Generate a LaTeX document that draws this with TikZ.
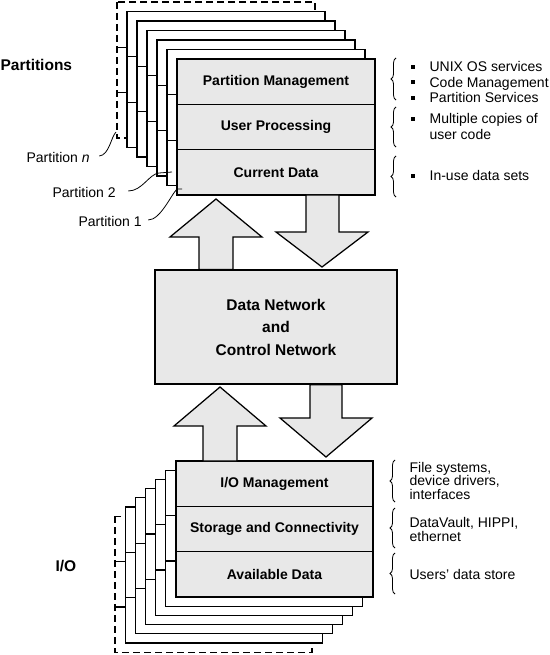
\documentclass[tikz,border=0pt]{standalone}
\usepackage{fontspec}
\setmainfont{Liberation Sans}
\usetikzlibrary{positioning,calc,decorations.pathreplacing}
\definecolor{boxgray}{RGB}{232,232,232}
\newcommand{\bsq}{\makebox[19pt][l]{\rule[2.9pt]{4pt}{4pt}}}

\begin{document}
\begin{tikzpicture}[x=1pt,y=-1pt,line width=1.25pt,
  rowbox/.style={draw,fill=boxgray,minimum width=198pt,minimum height=45.33pt,inner sep=0pt,outer sep=0pt,font=\bfseries\fontsize{14}{16}\selectfont},
  backbox/.style={draw,fill=white},
  farbox/.style={draw,fill=white,dash pattern=on 7pt off 4pt},
  blockarrow/.style={draw,fill=boxgray,line join=miter},
  leader/.style={line width=0.8pt},
  sidebrace/.style={decorate,decoration={brace,amplitude=5pt},line width=0.8pt},
  note/.style={anchor=west,align=left,inner sep=0pt,font=\fontsize{14}{15.5}\selectfont},
  biglabel/.style={anchor=base west,inner sep=0pt,font=\bfseries\fontsize{15.5}{18}\selectfont},
  partlabel/.style={anchor=base west,inner sep=0pt,font=\fontsize{14}{16}\selectfont}]
\useasboundingbox (0,0) rectangle (549,655);

% partition stack, back copies first
\draw[farbox] (117,2) rectangle ++(198,136);
\draw (117,47.33) -- ++(198,0) (117,92.67) -- ++(198,0);
\foreach \k in {5,...,1}{
  \draw[backbox] ({177-10*\k},{59-9.5*\k}) rectangle ++(198,136);
  \draw ({177-10*\k},{104.33-9.5*\k}) -- ++(198,0) ({177-10*\k},{149.67-9.5*\k}) -- ++(198,0);
}
\node[rowbox] (pm) at (276,81.67) {Partition Management};
\node[rowbox,below=0pt of pm] (up) {User Processing};
\node[rowbox,below=0pt of up] (cd) {Current Data};

% network
\node[draw,fill=boxgray,minimum width=242pt,minimum height=114pt,inner sep=0pt,align=center,font=\bfseries\fontsize{15.5}{22.5}\selectfont] (net) at (276,327) {Data Network\\and\\Control Network};

% arrows between partitions and network
\draw[blockarrow] (199,0 |- net.north) -- (199,237) -- (170,237) -- (216,199) -- (262,237) -- (233,237) -- (233,0 |- net.north) -- cycle;
\draw[blockarrow] (306,0 |- cd.south) -- (306,232) -- (276,232) -- (322,267) -- (368,232) -- (339,232) -- (339,0 |- cd.south) -- cycle;

% I/O stack, back copies first
\draw[farbox] (115,516.2) rectangle ++(197,136);
\draw (115,561.53) -- ++(197,0) (115,606.87) -- ++(197,0);
\foreach \k in {5,...,1}{
  \draw[backbox] ({176-10.17*\k},{461+9.2*\k}) rectangle ++(197,136);
  \draw ({176-10.17*\k},{506.33+9.2*\k}) -- ++(197,0) ({176-10.17*\k},{551.67+9.2*\k}) -- ++(197,0);
}
\node[rowbox,minimum width=197pt] (iom) at (274.5,483.67) {I/O Management};
\node[rowbox,minimum width=197pt,below=0pt of iom] (sc) {Storage and Connectivity};
\node[rowbox,minimum width=197pt,below=0pt of sc] (ad) {Available Data};

% arrows between network and I/O
\draw[blockarrow] (203,0 |- iom.north) -- (203,426) -- (174,426) -- (220,387) -- (266,426) -- (237,426) -- (237,0 |- iom.north) -- cycle;
\draw[blockarrow] (310,0 |- net.south) -- (310,418) -- (280,418) -- (326,457) -- (372,418) -- (342,418) -- (342,0 |- net.south) -- cycle;

% side notes
\draw[sidebrace] (396,100) -- (396,58);
\draw[sidebrace] (396,147) -- (396,107);
\draw[sidebrace] (396,197) -- (396,156);
\node[note] (nt1) at (410,82) {\bsq UNIX OS services\\\bsq Code Management\\\bsq Partition Services};
\node[note] (nt2) at (410,126.5) {\bsq Multiple copies of\\\hspace*{19pt}user code};
\node[note] (nt3) at (410,175.7) {\bsq In-use data sets};

\draw[sidebrace] (395,502) -- (395,460);
\draw[sidebrace] (395,548) -- (395,508);
\draw[sidebrace] (395,594) -- (395,553);
\node[note,font=\fontsize{14}{13.5}\selectfont] (nb1) at (409,480.5) {File systems,\\device drivers,\\interfaces};
\node[note,font=\fontsize{14}{13.5}\selectfont] (nb2) at (409,529.5) {DataVault, HIPPI,\\ethernet};
\node[note] (nb3) at (409,574) {Users' data store};

% left labels
\node[biglabel] (lblpart) at (0,71) {Partitions};
\node[biglabel] (lblio) at (55,571.7) {I/O};
\node[partlabel] (pn) at (26,163) {Partition \textit{n}};
\node[partlabel] (p2) at (52,197) {Partition 2};
\node[partlabel] (p1) at (78,226) {Partition 1};
\coordinate (pnend) at (116,132);
\coordinate (p2end) at (172,172);
\coordinate (p1end) at (182,189);
\draw[leader] ([xshift=9pt,yshift=2pt]pn.east) .. controls +(10,-1) and +(-5,5) .. (pnend);
\draw[leader] ([xshift=12pt,yshift=1pt]p2.east) .. controls +(14,0) and +(-10,1) .. (159,173) -- (p2end);
\draw[leader] ([xshift=6pt,yshift=1pt]p1.east) .. controls +(12,0) and +(-6,6) .. (177,189) -- (p1end);
\end{tikzpicture}
\end{document}
